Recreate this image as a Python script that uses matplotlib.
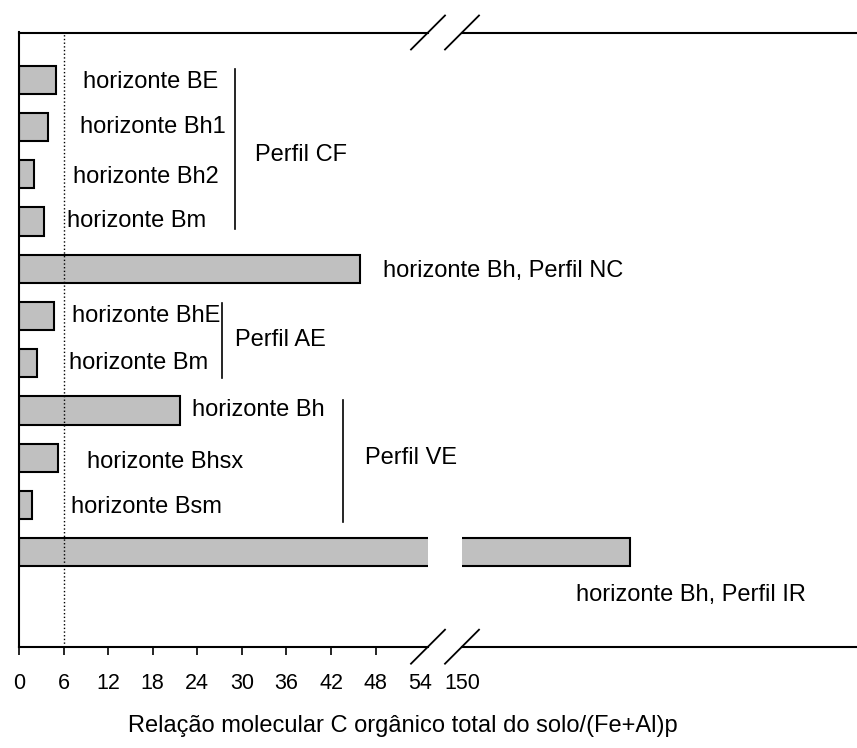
import matplotlib
matplotlib.use('Agg')
import matplotlib.pyplot as plt

plt.rcParams['font.family'] = ['Liberation Sans', 'DejaVu Sans']

# dados (de cima para baixo)
horizontes = ['horizonte BE', 'horizonte Bh1', 'horizonte Bh2', 'horizonte Bm',
              'horizonte Bh, Perfil NC', 'horizonte BhE', 'horizonte Bm',
              'horizonte Bh', 'horizonte Bhsx', 'horizonte Bsm',
              'horizonte Bh, Perfil IR']
relacao = [5.0, 3.95, 2.05, 3.4, 45.9, 4.75, 2.4, 21.7, 5.3, 1.75, 172.6]
ticks_esq = [0, 6, 12, 18, 24, 30, 36, 42, 48, 54]
ticks_dir = [150]
limite = 6

# posicao dos rotulos (x em unidades do eixo, y em posicao da barra)
rot_x = [8.6, 8.2, 7.3, 6.5, 49.0, 7.1, 6.7, 23.3, 9.15, 7.0, 165.3]
rot_y = [0.05, 1.0, 2.05, 3.0, 4.05, 5.0, 6.0, 7.0, 8.1, 9.05, 10.9]

perfis = ['Perfil CF', 'Perfil AE', 'Perfil VE']
perfil_x = [31.8, 29.1, 46.6]
perfil_y = [1.6, 5.5, 8.0]
chave_x = [29.1, 27.3, 43.6]
chave_y0 = [-0.23, 4.72, 6.78]
chave_y1 = [3.16, 6.31, 9.36]

fig = plt.figure(figsize=(8.57, 7.48), dpi=100)
W, H = 857, 748
top, bot = 32.5, 646.7
ax1 = fig.add_axes([19 / W, 1 - bot / H, (428 - 19) / W, (bot - top) / H])
ax2 = fig.add_axes([462 / W, 1 - bot / H, (857 - 462) / W, (bot - top) / H])

pos = list(range(len(relacao)))
for ax in (ax1, ax2):
    ax.patch.set_visible(False)
    ax.barh(pos, relacao, height=0.6, color='#c0c0c0', edgecolor='black', linewidth=1.5)
    ax.set_ylim(12.0, -1.0)
    ax.set_yticks([])
    for s in ax.spines.values():
        s.set_linewidth(1.5)
    ax.spines['right'].set_visible(False)
    ax.tick_params(axis='x', labelsize=15.5, length=6, width=1.2, pad=13, direction='out')

ax2.spines['left'].set_visible(False)
ax1.set_xlim(0, (428 - 19) / 7.43)
ax2.set_xlim(150, 150 + (857 - 462) / 7.43)
ax1.set_xticks(ticks_esq)
ax1.xaxis.get_major_ticks()[-1].tick1line.set_visible(False)
ax2.set_xticks(ticks_dir)
ax2.tick_params(axis='x', length=0, pad=19)

ax1.axvline(limite, color='black', linestyle=':', linewidth=1)

for i in range(len(horizontes)):
    alvo = ax2 if rot_x[i] > 100 else ax1
    alvo.text(rot_x[i], rot_y[i], horizontes[i], fontsize=17, ha='left', va='center', zorder=5)

for i in range(len(perfis)):
    ax1.text(perfil_x[i], perfil_y[i], perfis[i], fontsize=17, ha='left', va='center')
    ax1.plot([chave_x[i], chave_x[i]], [chave_y0[i], chave_y1[i]], color='black', linewidth=1.2)

# marcas de quebra do eixo
dx, dy = 17 / 409, 17 / 614
dx2 = 17 / 395
for yy in (0, 1):
    ax1.plot([1 - dx, 1 + dx], [yy - dy, yy + dy], transform=ax1.transAxes,
             color='black', linewidth=1.3, clip_on=False)
    ax2.plot([-dx2, dx2], [yy - dy, yy + dy], transform=ax2.transAxes,
             color='black', linewidth=1.3, clip_on=False)

fig.text(402.5 / W, 1 - 726 / H, 'Relação molecular C orgânico total do solo/(Fe+Al)p',
         fontsize=17, ha='center', va='center')

fig.savefig('out.png', dpi=100)
